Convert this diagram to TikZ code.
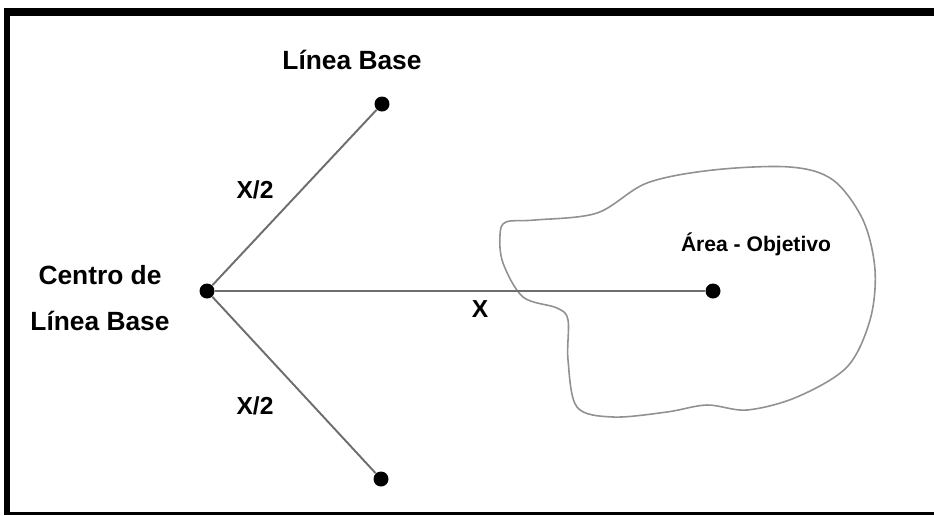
\documentclass[tikz,border=0pt]{standalone}
\usepackage{fontspec}
\setmainfont{Liberation Sans}
\definecolor{gristrazo}{RGB}{110,110,110}
\definecolor{contorno}{RGB}{145,145,145}
\begin{document}
\begin{tikzpicture}[x=0.02cm, y=0.02cm]
\tikzstyle{every node}+=[inner sep=0pt, font=\fontsize{15}{18}\selectfont\bfseries]
\tikzstyle{punto}=[circle, fill=black, minimum size=0.3cm]
\tikzstyle{rayo}=[draw=gristrazo, line width=1.1pt]
\useasboundingbox (0,0) rectangle (934,-515);
\fill [white] (0,0) rectangle (934,-515);
% marco
\fill [black] (4,-8) rectangle (934,-16);
\fill [black] (4,-8) rectangle (10,-515);
\fill [black] (4,-512) rectangle (934,-515);
% area objetivo
\draw [contorno, line width=0.9pt] plot [smooth cycle, tension=0.55] coordinates {
(506,-222) (535,-220) (597,-213) (647,-183) (713,-170) (790,-167)
(833,-180) (863,-220) (875,-270) (870,-320) (847,-367) (797,-397)
(747,-410) (707,-405) (667,-412) (613,-417) (577,-407) (568,-360)
(568,-320) (557,-308) (523,-297) (503,-263) (500,-235)};
% puntos
\node [punto] (centro) at (207,-291) {};
\node [punto] (sup) at (382,-104) {};
\node [punto] (inf) at (381,-479) {};
\node [punto] (obj) at (713,-291) {};
\draw [rayo] (centro) -- (sup);
\draw [rayo] (centro) -- (inf);
\draw [rayo] (centro) -- (obj);
% textos
\node (lbase) at (352,-60) {Línea Base};
\node [align=center] (ctro) at (100,-298) {Centro de\\[8pt]Línea Base};
\node [font=\fontsize{14}{16}\selectfont\bfseries] (mitad1) at (255,-190) {X/2};
\node [font=\fontsize{14}{16}\selectfont\bfseries] (mitad2) at (255,-406) {X/2};
\node [font=\fontsize{14}{16}\selectfont\bfseries] (dist) at (480,-309) {X};
\node [font=\fontsize{12}{14}\selectfont\bfseries] (area) at (756,-244) {Área - Objetivo};
\end{tikzpicture}
\end{document}
